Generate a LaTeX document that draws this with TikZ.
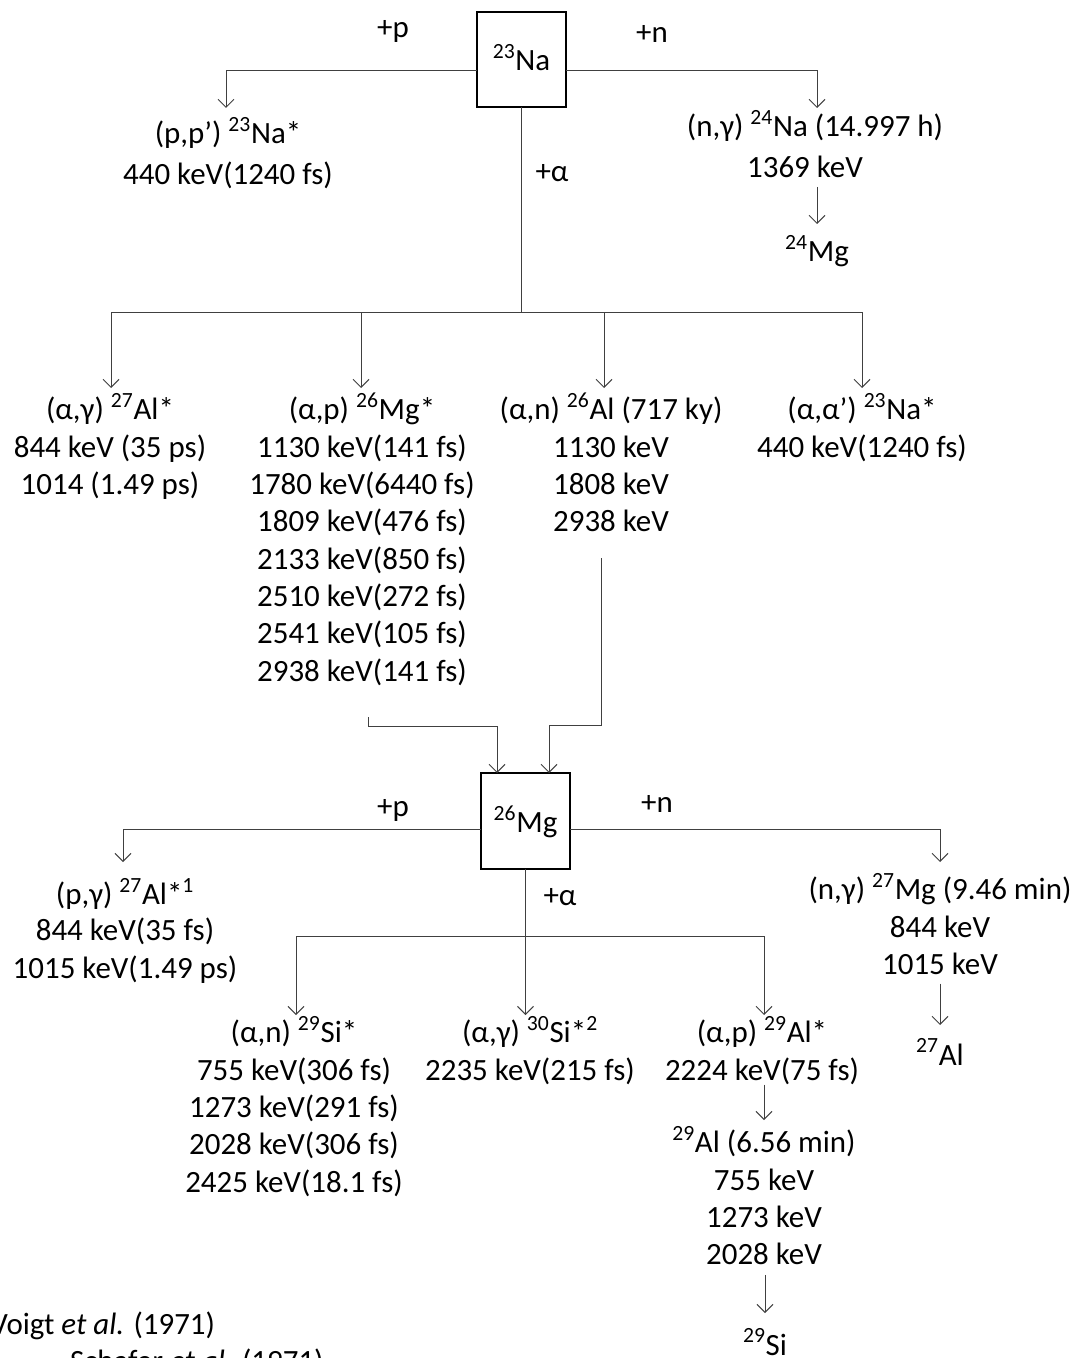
\documentclass[tikz,border=0pt]{standalone}
\usepackage{fontspec}
\setmainfont{Carlito}
\usetikzlibrary{arrows.meta}
\newcommand\fst{\rule{0pt}{20pt}}
\newcommand\lst{\rule[-3pt]{0pt}{3pt}}
\begin{document}
\begin{tikzpicture}[x=0.75pt,y=-0.75pt,
  every node/.style={font=\fontsize{23.2}{28}\selectfont, inner sep=0pt, outer sep=0pt},
  col/.style={align=center, anchor=north},
  one/.style={anchor=base, text height=20pt, text depth=3pt},
  nuc/.style={draw=black, line width=1.5pt, minimum width=66.5pt, minimum height=71.5pt, text height=20pt, text depth=3pt},
  conn/.style={draw=black!75, line width=0.75pt},
  arr/.style={conn, -{Straight Barb[length=6pt,width=12pt]}}]
\useasboundingbox (0,0) rectangle (1079,1358);
\clip (0,0) rectangle (1079,1358);

% ---- 23Na ----
\node[nuc] (na) at (521.5,59.5) {\textsuperscript{23}Na};
\node[one] (lp) at (393,38) {+p};
\node[one] (ln) at (652,43) {+n};
\node[one] (la) at (552,182) {+α};

\node[col] (pp) at (228,117.3) {\fst(p,p’) \textsuperscript{23}Na*\\[2.7pt]440 keV(1240 fs)};
\node[col] (ng) at (815,110.3) {\fst(n,γ) \textsuperscript{24}Na (14.997 h)\\[2.7pt]1369 keV\hspace*{15pt}\lst};
\node[one] (mg24) at (817,262) {\textsuperscript{24}Mg};

\coordinate (tpp) at (226,108);
\coordinate (tng) at (817,108);
\draw[arr] ([yshift=-7.9pt]na.west) -| (tpp);
\draw[arr] ([yshift=-7.9pt]na.east) -| (tng);
\draw[arr, shorten <=3.75pt, shorten >=8.5pt] (ng.south -| mg24) -- (mg24.north);

% alpha branch
\coordinate (b1) at (521.5,313);
\coordinate (t1) at (111,388);
\coordinate (t2) at (361,388);
\coordinate (t3) at (604,388);
\coordinate (t4) at (862,388);
\draw[conn] (na) -- (b1);
\draw[arr] (b1) -| (t1);
\draw[arr] (b1) -| (t2);
\draw[arr] (b1) -| (t3);
\draw[arr] (b1) -| (t4);

\node[col] (c1) at (110,393.3) {\fst(α,γ) \textsuperscript{27}Al*\\844 keV (35 ps)\\1014 (1.49 ps)};
\node[col] (c2) at (362,393.3) {\fst(α,p) \textsuperscript{26}Mg*\\1130 keV(141 fs)\\1780 keV(6440 fs)\\1809 keV(476 fs)\\2133 keV(850 fs)\\2510 keV(272 fs)\\2541 keV(105 fs)\\2938 keV(141 fs)};
\node[col] (c3) at (611,393.3) {\fst(α,n) \textsuperscript{26}Al (717 ky)\\1130 keV\\1808 keV\\2938 keV};
\node[col] (c4) at (862,393.3) {\fst(α,α’) \textsuperscript{23}Na*\\440 keV(1240 fs)};

% ---- 26Mg ----
\node[nuc, minimum width=67pt, minimum height=72pt] (mg) at (525.5,821) {\textsuperscript{26}Mg};

\coordinate (s2) at (368,717);
\coordinate (k2) at (497,726);
\draw[arr] (s2) |- (k2) -- (k2 |- mg.north);
\coordinate (s3) at (601,558);
\coordinate (k3) at (549,725);
\draw[arr] (s3) |- (k3) -- (k3 |- mg.north);

\node[one] (lp2) at (393,816) {+p};
\node[one] (ln2) at (657,812) {+n};
\node[one] (la2) at (560,905) {+α};

\coordinate (tpg) at (123,862);
\coordinate (tng2) at (940,862);
\draw[arr] ([yshift=-6pt]mg.west) -| (tpg);
\draw[arr] ([yshift=-6pt]mg.east) -| (tng2);

\node[col] (pg) at (125,878.3) {\fst(p,γ) \textsuperscript{27}Al*\textsuperscript{1}\\[-1pt]844 keV(35 fs)\\1015 keV(1.49 ps)};
\node[col] (ng2) at (940,873.3) {\fst(n,γ) \textsuperscript{27}Mg (9.46 min)\\844 keV\\1015 keV\lst};
\node[one] (al27) at (940,1065) {\textsuperscript{27}Al};
\draw[arr, shorten <=3.75pt, shorten >=10pt] (ng2.south -| al27) -- (al27.north);

\coordinate (b2) at (525.5,936);
\coordinate (u1) at (296,1015);
\coordinate (u2) at (525.5,1015);
\coordinate (u3) at (764,1015);
\draw[conn] (mg) -- (b2);
\draw[arr] (b2) -| (u1);
\draw[arr] (b2) -- (u2);
\draw[arr] (b2) -| (u3);

\node[col] (d1) at (294,1016.3) {\fst(α,n) \textsuperscript{29}Si*\\755 keV(306 fs)\\1273 keV(291 fs)\\2028 keV(306 fs)\\2425 keV(18.1 fs)};
\node[col] (d2) at (530,1016.3) {\fst(α,γ) \textsuperscript{30}Si*\textsuperscript{2}\\2235 keV(215 fs)};
\node[col] (d3) at (762,1016.3) {\fst(α,p) \textsuperscript{29}Al*\\2224 keV(75 fs)\lst};
\node[col] (al29) at (764,1126.3) {\fst\textsuperscript{29}Al (6.56 min)\\755 keV\\1273 keV\\2028 keV\lst};
\node[one] (si29) at (765,1355) {\textsuperscript{29}Si};
\draw[arr, shorten >=4.7pt] (d3.south -| al29) -- (al29.north);
\draw[arr, shorten <=4.5pt, shorten >=11.5pt] (al29.south -| si29) -- (si29.north);

% footnotes
\node[anchor=base east] (fn1) at (215,1334) {\textsuperscript{1}Voigt \textit{et al.} (1971)};
\node[anchor=base west] (fn2) at (70,1371) {Schafer \textit{et al.} (1971)};
\end{tikzpicture}
\end{document}
